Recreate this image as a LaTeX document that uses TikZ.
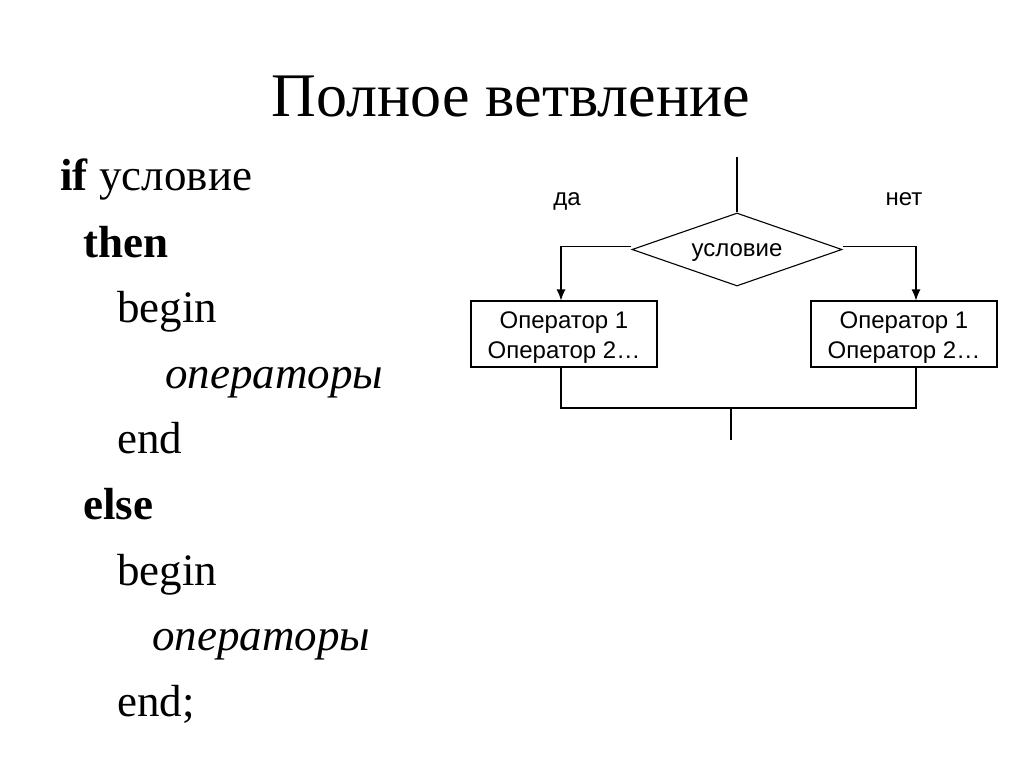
\documentclass[tikz,border=0pt]{standalone}
\usepackage{fontspec}
\setmainfont{Liberation Serif}
\newfontfamily\chartfont{Liberation Sans}
\usetikzlibrary{arrows.meta,positioning,calc,shapes.geometric}

\begin{document}
\begin{tikzpicture}[x=1pt,y=-1pt,>={Latex[length=11pt,width=9pt]},
  line/.style={line width=1.1pt,black},
  code/.style={anchor=base west,inner sep=0pt,font=\fontsize{45}{50}\selectfont},
  chart/.style={font=\chartfont\fontsize{24}{30}\selectfont},
  opbox/.style={draw,line width=1.1pt,minimum width=186pt,minimum height=66pt,inner sep=0pt},
  decision/.style={draw,diamond,aspect=2.9,line width=1.1pt,minimum width=210pt,minimum height=73pt,inner sep=0pt}]
  \useasboundingbox (0,0) rectangle (1024,767);
  \fill[white] (0,0) rectangle (1024,767);
  \node[anchor=base,inner sep=0pt,font=\fontsize{62}{68}\selectfont] (title) at (511,117) {Полное ветвление};
  % program text
  \node[code] (l1) at (60,191) {\textbf{if} условие};
  \node[code] (l2) at (83,257) {\textbf{then}};
  \node[code] (l3) at (117,322) {begin};
  \node[code] (l4) at (165,388) {\textit{операторы}};
  \node[code] (l5) at (117,453) {end};
  \node[code] (l6) at (83,519) {\textbf{else}};
  \node[code] (l7) at (117,585) {begin};
  \node[code] (l8) at (152,650) {\textit{операторы}};
  \node[code] (l9) at (117,716) {end;};
  % flowchart
  \coordinate (entry) at (737,157);
  \node[decision,label={[chart,yshift=-3pt]center:условие}] (cond) at (737,249.5) {};
  \node[opbox,label={[chart,align=center,yshift=-4pt]center:Оператор 1\\Оператор 2\dots}] (op1) at (564,334) {};
  \node[opbox,label={[chart,align=center,yshift=-4pt]center:Оператор 1\\Оператор 2\dots}] (op2) at (904,334) {};
  \node[chart,anchor=base] (yes) at (567,206) {да};
  \node[chart,anchor=base] (no) at (904,206) {нет};
  \coordinate (join) at (731,408);
  \coordinate (exit) at (731,440);
  \draw[line] (entry) -- (cond.north);
  \draw[line,->] ([yshift=3pt]cond.west) -| ([xshift=-3pt]op1.north);
  \draw[line,->] ([yshift=3pt]cond.east) -| ([xshift=12pt]op2.north);
  \draw[line] ([xshift=-3pt]op1.south) |- (join) -| ([xshift=12pt]op2.south);
  \draw[line] (join) -- (exit);
\end{tikzpicture}
\end{document}
